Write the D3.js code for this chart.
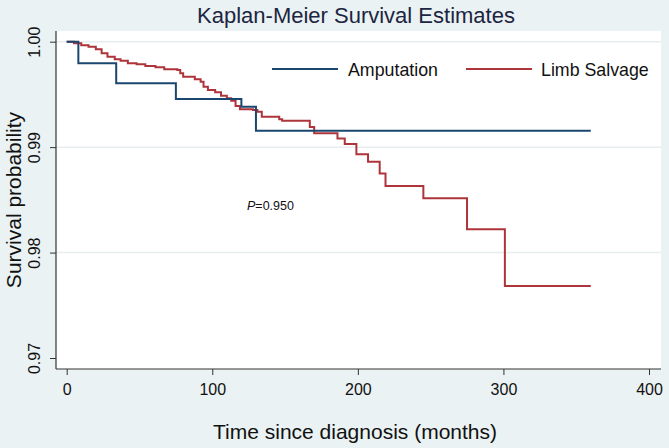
<!DOCTYPE html>
<html><head><meta charset="utf-8">
<script src="https://cdn.jsdelivr.net/npm/d3@7"></script>
<style>body{margin:0;background:#eaf2f3}svg{display:block}</style>
</head><body>
<script>
// Data: step points [time (months), survival probability]
const amputation = [[0,1.0],[8,0.99795],[34,0.99605],[75,0.99456],[120,0.99384],[130,0.99156],[360,0.99156]];
const limbSalvage = [[0,1.0],[5,0.99985],[10,0.99966],[15,0.99953],[20,0.99928],[24,0.9989],[28,0.99858],[33,0.99833],[37,0.9982],[42,0.99795],[48,0.99786],[54,0.9977],[61,0.99757],[67,0.99738],[76,0.99731],[78,0.997],[80,0.99668],[88,0.99643],[92,0.9962],[94,0.99573],[97,0.99542],[102,0.9952],[106,0.99488],[110,0.99463],[113,0.9944],[116,0.9939],[119,0.99359],[128,0.99352],[131,0.99336],[134,0.99288],[146,0.99264],[148,0.9925],[167,0.9919],[170,0.99131],[186,0.99083],[191,0.99029],[199,0.98932],[207,0.98861],[215,0.98751],[219,0.98631],[245,0.98514],[275,0.9822],[301,0.97683],[360,0.97683]];
const xTicks = [0,100,200,300,400];
const yTicks = [0.97,0.98,0.99,1.00];
const seriesNames = ["Amputation","Limb Salvage"];
const seriesColors = ["#1a476f","#ad343b"];
const titleText = "Kaplan-Meier Survival Estimates";
const xLabel = "Time since diagnosis (months)";
const yLabel = "Survival probability";

const W=669,H=448;
const plot={l:56,r:661,t:31,b:369};
const svg=d3.select("body").append("svg").attr("width",W).attr("height",H);
svg.append("rect").attr("width",W).attr("height",H).attr("fill","#eaf2f3");
svg.append("rect").attr("x",plot.l).attr("y",plot.t).attr("width",plot.r-plot.l).attr("height",plot.b-plot.t).attr("fill","#ffffff");

const x=d3.scaleLinear().domain([0,400]).range([66.7,649]);
const y=d3.scaleLinear().domain([0.97,1.0]).range([358,41.7]);
const font="Liberation Sans, Arial, sans-serif";

// gridlines
svg.append("g").selectAll("line").data(yTicks.filter(d=>d>0.975)).join("line")
  .attr("x1",plot.l).attr("x2",plot.r).attr("y1",d=>y(d)).attr("y2",d=>y(d))
  .attr("stroke","#e6eef0").attr("stroke-width",1.5);

// axes
const xAxis=d3.axisBottom(x).tickValues(xTicks).tickSize(6).tickPadding(9).tickFormat(d3.format("d"));
const gx=svg.append("g").attr("transform",`translate(0,${plot.b})`).call(xAxis);
gx.select(".domain").attr("d",`M${plot.l},0H${plot.r}`).attr("stroke","#333").attr("stroke-width",1.2);
gx.selectAll(".tick line").attr("stroke","#333");
gx.selectAll("text").attr("font-family",font).attr("font-size",16).attr("fill","#111");

const yAxis=d3.axisLeft(y).tickValues(yTicks).tickSize(6).tickFormat(d3.format(".2f"));
const gy=svg.append("g").attr("transform",`translate(${plot.l},0)`).call(yAxis);
gy.select(".domain").attr("d",`M0,${plot.t}V${plot.b}`).attr("stroke","#333").attr("stroke-width",1.2);
gy.selectAll(".tick line").attr("stroke","#333");
gy.selectAll("text").attr("font-family",font).attr("font-size",16).attr("fill","#111")
  .attr("transform","rotate(-90)").attr("x",0).attr("y",-16).attr("dy",0).attr("text-anchor","middle");

// curves
const line=d3.line().x(d=>x(d[0])).y(d=>y(d[1])).curve(d3.curveStepAfter);
[[limbSalvage,1],[amputation,0]].forEach(([data,i])=>{
  svg.append("path").datum(data).attr("d",line).attr("fill","none")
    .attr("stroke",seriesColors[i]).attr("stroke-width",2);
});

// legend
const leg=[{x1:272,x2:338,tx:348},{x1:466,x2:532,tx:541}];
leg.forEach((p,i)=>{
  svg.append("line").attr("x1",p.x1).attr("x2",p.x2).attr("y1",69).attr("y2",69)
    .attr("stroke",seriesColors[i]).attr("stroke-width",2);
  svg.append("text").attr("x",p.tx).attr("y",75.5).text(seriesNames[i])
    .attr("font-family",font).attr("font-size",17.8).attr("fill","#111");
});

// p-value
const pt=svg.append("text").attr("x",247).attr("y",210).attr("font-family",font).attr("font-size",12.5).attr("fill","#111");
pt.append("tspan").attr("font-style","italic").text("P");
pt.append("tspan").text("=0.950");

// titles
svg.append("text").attr("x",356).attr("y",23).attr("text-anchor","middle").text(titleText)
  .attr("font-family",font).attr("font-size",22).attr("fill","#1c2541");
svg.append("text").attr("x",355).attr("y",439).attr("text-anchor","middle").text(xLabel)
  .attr("font-family",font).attr("font-size",21).attr("fill","#111");
svg.append("text").attr("transform","translate(21,200) rotate(-90)").attr("text-anchor","middle").text(yLabel)
  .attr("font-family",font).attr("font-size",21).attr("fill","#111");
</script>
</body></html>
